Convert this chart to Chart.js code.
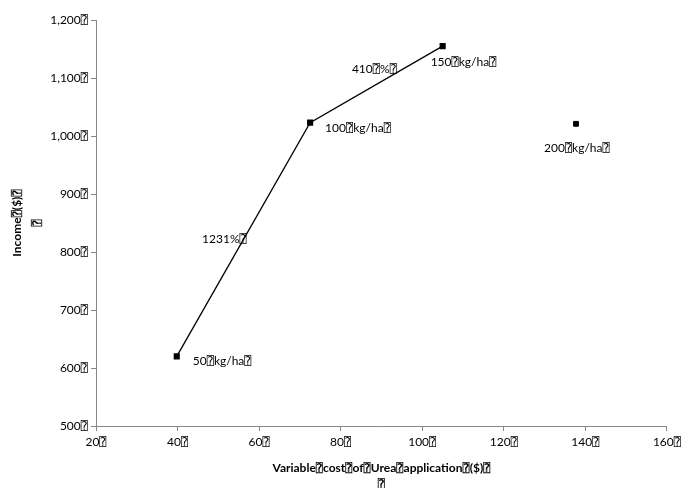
<!DOCTYPE html>
<html><head><meta charset="utf-8">
<script src="https://cdn.jsdelivr.net/npm/chart.js@4/dist/chart.umd.min.js"></script>
<style>html,body{margin:0;padding:0;background:#fff}#wrap{width:685px;height:488px}</style>
</head><body><div id="wrap"><canvas id="c" width="685" height="488"></canvas></div>
<script>
const B = '\u2370';
const ureaCost = [39.8, 72.5, 105, 137.7];
const income = [620, 1023, 1155, 1021];
const rateLabels = ['50' + B + 'kg/ha' + B, '100' + B + 'kg/ha' + B, '150' + B + 'kg/ha' + B, '200' + B + 'kg/ha' + B];
const marginLabels = ['1231%' + B, '410' + B + '%' + B];
const xTitle = ['Variable' + B + 'cost' + B + 'of' + B + 'Urea' + B + 'application' + B + '($)' + B, B];
const yTitle = ['Income' + B + '($)' + B, B];

const FONT = "Lato, 'Open Sans', 'DejaVu Sans Mono', sans-serif";
const linePts = ureaCost.slice(0, 3).map((x, i) => ({x, y: income[i]}));
const lonePts = [{x: ureaCost[3], y: income[3]}];

const labelOffsets = [[16, 5], [15, 5], [-12, 16], [-32, 24]];
const marginOffsets = [[-19, 0], [-2, -15]];

const labelPlugin = {
  id: 'lbls',
  afterDatasetsDraw(chart) {
    const ctx = chart.ctx, xs = chart.scales.x, ys = chart.scales.y;
    ctx.save();
    ctx.font = '12px ' + FONT;
    ctx.fillStyle = '#000';
    ctx.textBaseline = 'middle';
    ctx.textAlign = 'left';
    ureaCost.forEach((x, i) => {
      const px = xs.getPixelForValue(x), py = ys.getPixelForValue(income[i]);
      ctx.fillText(rateLabels[i], px + labelOffsets[i][0], py + labelOffsets[i][1]);
    });
    ctx.textAlign = 'center';
    marginLabels.forEach((t, i) => {
      const mx = (ureaCost[i] + ureaCost[i + 1]) / 2, my = (income[i] + income[i + 1]) / 2;
      const px = xs.getPixelForValue(mx), py = ys.getPixelForValue(my);
      ctx.fillText(t, px + marginOffsets[i][0], py + marginOffsets[i][1]);
    });
    ctx.restore();
  }
};

new Chart(document.getElementById('c'), {
  type: 'scatter',
  data: {
    datasets: [
      {data: linePts, showLine: true, borderColor: '#000', borderWidth: 1.3, backgroundColor: '#000',
       pointStyle: 'rect', pointRadius: 3.4, pointBorderColor: '#000', pointBackgroundColor: '#000'},
      {data: lonePts, showLine: false, backgroundColor: '#000',
       pointStyle: 'rect', pointRadius: 3.4, pointBorderColor: '#000', pointBackgroundColor: '#000'}
    ]
  },
  options: {
    responsive: false, animation: false,
    layout: {padding: {top: 20, right: 18, left: 0, bottom: 0}},
    plugins: {legend: {display: false}, tooltip: {enabled: false}},
    scales: {
      x: {
        type: 'linear', min: 20, max: 160,
        ticks: {stepSize: 20, color: '#000', font: {family: FONT, size: 12}, padding: 4,
                callback: v => v + B},
        grid: {drawOnChartArea: false, drawTicks: true, tickLength: 5, color: '#888'},
        border: {color: '#888', width: 1},
        title: {display: true, text: xTitle, color: '#000', font: {family: FONT, size: 12, weight: 'bold', lineHeight: 1.4}, padding: {top: 8, bottom: -5}},
        afterFit(s) { s.height = 62; }
      },
      y: {
        type: 'linear', min: 500, max: 1200,
        ticks: {stepSize: 100, color: '#000', font: {family: FONT, size: 12}, padding: 3,
                callback: v => v.toLocaleString('en-US') + B},
        grid: {drawOnChartArea: false, drawTicks: true, tickLength: 5, color: '#888'},
        border: {color: '#888', width: 1},
        title: {display: true, text: yTitle, color: '#000', font: {family: FONT, size: 12, weight: 'bold', lineHeight: 1.6}, padding: {top: 8, bottom: 4}},
        afterFit(s) { s.width = 96; }
      }
    }
  },
  plugins: [labelPlugin]
});
</script></body></html>
